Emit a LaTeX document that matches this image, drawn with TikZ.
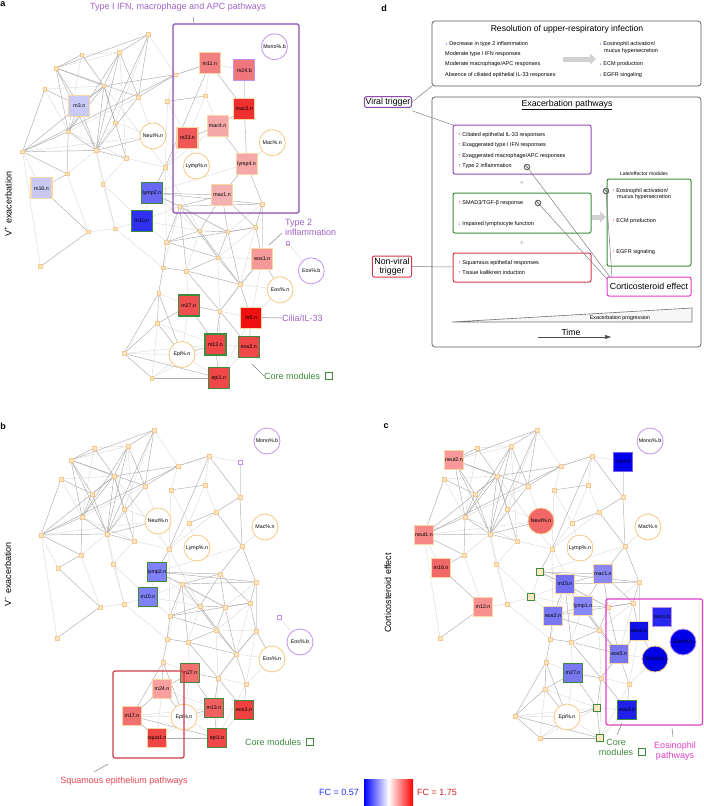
\documentclass[tikz,border=0pt]{standalone}
\usepackage{fontspec}
\setmainfont{Liberation Sans}
\usetikzlibrary{arrows.meta}
\definecolor{dotF}{HTML}{FDE6C0}
\definecolor{dotB}{HTML}{F5C98C}
\definecolor{orgB}{HTML}{F9D6A6}
\definecolor{cellB}{HTML}{F5C883}
\definecolor{purpB}{HTML}{C393F0}
\definecolor{coreG}{HTML}{3C8C3C}
\definecolor{annP}{HTML}{A064C8}
\definecolor{annG}{HTML}{3C8C3C}
\definecolor{annR}{HTML}{E04452}
\definecolor{annM}{HTML}{E040C8}
\definecolor{boxP}{HTML}{8E4AB4}
\definecolor{boxR}{HTML}{D03A48}
\definecolor{upR}{HTML}{E02020}
\definecolor{dnB}{HTML}{2050E0}
\definecolor{fcblue}{HTML}{2030F0}
\definecolor{fcred}{HTML}{D02020}
\newcommand\myfs[1]{\fontsize{#1}{#1}\selectfont}
\newcommand\upa{\textcolor{upR}{↑}\ }
\newcommand\dna{\textcolor{dnB}{↓}\ }
\def\netpos{n1/154/430,n2/94/448,n3/128/446,n4/71/460,n5/178/466,n6/61/479,n7/114/476,n8/145/486,n9/171/490,n10/92/494,n11/124/509,n12/82/517,n13/41/535,n14/107/534,n15/134/541,n16/169/549,n17/81/555,n18/113/564,n19/58/568,n20/209/456,n21/240/462,n22/205/485,n23/240/497,n24/216/512,n25/189/523,n26/242/546,n27/157/572,n28/148/597,n29/100/607,n30/124/604,n31/57/638,n32/220/574,n33/256/582,n34/182/584,n35/200/606,n36/225/607,n37/250/603,n38/170/616,n39/216/630,n40/167/639,n41/188/642,n42/256/631,n43/279/617,n44/236/654,n45/163/662,n46/218/678,n47/246/684,n48/190/673,n49/162/689,n50/132/716,n51/157/738,n52/214/708,n53/244/710,n54/217/738,cNeut/158/521,cMono/267/441,cMac/265/527,cLymp/197/548,cEosn/272/659,cEosb/300/642,cEpi/184/717}
\def\edgesD{n1/n3,n1/n4,n1/n8,n1/n14,n2/n4,n2/n7,n3/n7,n3/n8,n3/n14,n3/n12,n4/n7,n4/n10,n4/n12,n4/n14,n4/n8,n5/n13,n5/n7,n6/n10,n6/n13,n7/n10,n7/n11,n7/n12,n7/n14,n7/n15,n7/n13,n8/n14,n10/n12,n10/n14,n12/n13,n12/n14,n12/n17,n13/n14,n13/n17,n14/n15,n14/cNeut,n17/n19,n19/n29,n29/n31,n20/n5,n20/n23,n20/n16,n23/n24,n24/n25,n24/n26,n23/n26,n26/n32,n26/n33,n27/n32,n27/n34,n27/n33,n32/n34,n32/n35,n32/n37,n32/n36,n33/n34,n33/n37,n34/n36,n34/n38,n34/n39,n35/n36,n35/n38,n36/n37,n36/n39,n37/n38,n38/n39,n38/n40,n39/n41,n39/n44,n34/n41,n40/n41,n41/n44,n42/n44,n44/n46,n44/n47,n46/n48,n46/n52,n48/n49,n49/n50,n50/n51,n51/n54,n52/n54,n50/n54,n45/n50,n45/n49,n40/n45,n41/n46,n37/n42,n36/n44,n35/n44,n42/cEosn,n52/cEpi,n49/cEpi,n47/n53,n46/n53,n48/n52,n45/cEpi,n16/n27,n9/n22,n5/n8}
\def\edgesL{n1/n5,n1/n11,n2/n3,n2/n12,n3/n15,n5/n9,n5/n20,n6/n7,n6/n12,n7/n16,n8/cNeut,n8/n12,n9/n25,n11/n14,n11/cNeut,n12/n15,n13/n19,n13/cNeut,n13/n31,n14/n17,n14/n18,n15/n18,n15/n16,n17/n29,n18/n30,n18/n28,n20/n21,n20/n22,n21/n23,n22/n24,n25/n16,n25/cLymp,n26/cMac,n26/n27,n28/n30,n28/n34,n28/n38,n28/n35,n29/n30,n30/n40,n30/n14,n27/n28,n16/n38,n16/n35,n33/n36,n33/n42,n35/n39,n35/n41,n37/n39,n37/n44,n39/n42,n39/n46,n40/n34,n41/n48,n42/n46,n42/n47,n44/cEosn,n45/n48,n46/n47,n46/n54,n47/cEosn,n47/n54,n48/cEpi,n49/n51,n49/n52,n50/cEpi,n50/n52,n51/cEpi,n51/n52,n52/n53,n53/n54,cEpi/n54,n43/cEosb,n24/n16,n22/n25,n27/n36,n27/n35,n9/n16,n3/n4}
\newcommand\drawnet[1]{%
  \foreach \n/\x/\y in \netpos {\coordinate (#1-\n) at (\x,\y);}
  \foreach \u/\v in \edgesL {\draw[edgeL] (#1-\u) -- (#1-\v);}
  \foreach \u/\v in \edgesD {\draw[edgeD] (#1-\u) -- (#1-\v);}
  \foreach \i in {1,...,54} {\node[dot] (#1-d\i) at (#1-n\i) {};}
}
\tikzset{
  edgeD/.style={draw=black!32, line width=0.45pt},
  edgeL/.style={draw=black!15, line width=0.4pt},
  dot/.style={rectangle, minimum size=3.6pt, inner sep=0pt, fill=dotF, draw=dotB, line width=0.5pt},
  pdot/.style={rectangle, minimum size=3.6pt, inner sep=0pt, fill=white, draw=purpB, line width=0.6pt},
  modbase/.style={rectangle, inner sep=0pt, draw=orgB, line width=1.1pt, font=\myfs{5.3}},
  modA/.style={modbase, minimum size=21pt},
  modB/.style={modbase, minimum size=19.5pt},
  core/.style={draw=coreG, line width=1.2pt},
  pb/.style={draw=purpB},
  cell/.style={circle, minimum size=26pt, inner sep=0pt, draw=cellB, line width=0.8pt, fill=white, font=\myfs{5.3}},
  pcell/.style={cell, draw=purpB},
  minicore/.style={rectangle, minimum size=6.5pt, inner sep=0pt, draw=coreG, line width=1pt, fill=dotF},
  ann/.style={font=\myfs{9}, inner sep=0pt},
  plab/.style={font=\bfseries\myfs{9}, inner sep=0pt},
  side/.style={font=\myfs{9}, rotate=90, inner sep=0pt},
  dbox/.style={draw=black!65, rounded corners=3pt, line width=0.7pt},
  item/.style={anchor=west, font=\myfs{5.5}, inner sep=0pt},
  nosym/.style={circle, draw=black!60, line width=1pt, minimum size=5.5pt, inner sep=0pt,
    path picture={\draw[black!60, line width=1pt] (path picture bounding box.north west) -- (path picture bounding box.south east);}},
  fatarrow/.style={draw=black!18, line width=5pt, -{Triangle[length=6pt,width=11pt]}},
  trig/.style={rounded corners=2pt, line width=1pt, fill=white, font=\myfs{8.8}, inner sep=1.6pt, align=center},
  link/.style={draw=black!50, line width=0.5pt}
}
\begin{document}
\begin{tikzpicture}[x=1pt,y=-1pt]
\useasboundingbox (0,0) rectangle (704,806);
\fill[white] (0,0) rectangle (704,806);

% ================= panel a =================
\begin{scope}[shift={(-23.2,-445)}, scale=1.115]
\drawnet{a}
\end{scope}
\node[pdot] (a-pd43) at (a-n43) {};
\node[cell] (a-Neut) at (a-cNeut) {Neut\%.n};
\node[pcell] (a-Mono) at (a-cMono) {Mono\%.b};
\node[cell] (a-Mac) at (a-cMac) {Mac\%.n};
\node[cell] (a-Lymp) at (a-cLymp) {Lymp\%.n};
\node[cell] (a-Eosn) at (a-cEosn) {Eos\%.n};
\node[pcell] (a-Eosb) at (a-cEosb) {Eos\%.b};
\node[cell] (a-Epi) at (a-cEpi) {Epi\%.n};
\node[modA, fill={rgb,255:red,202;green,202;blue,248}] (a-m3) at (a-n10) {m3.n};
\node[modA, fill={rgb,255:red,200;green,200;blue,244}] (a-m16) at (a-n19) {m16.n};
\node[modA, fill={rgb,255:red,240;green,128;blue,128}] (a-m11) at (a-n20) {m11.n};
\node[modA, pb, fill={rgb,255:red,240;green,118;blue,124}] (a-m24b) at (a-n21) {m24.b};
\node[modA, fill={rgb,255:red,240;green,48;blue,48}] (a-mac2) at (a-n23) {mac2.n};
\node[modA, fill={rgb,255:red,244;green,168;blue,168}] (a-mac4) at (a-n24) {mac4.n};
\node[modA, fill={rgb,255:red,240;green,88;blue,88}] (a-m23) at (a-n25) {m23.n};
\node[modA, fill={rgb,255:red,244;green,168;blue,168}] (a-lymp4) at (a-n26) {lymp4.n};
\node[modA, fill={rgb,255:red,244;green,176;blue,176}] (a-mac1) at (a-n32) {mac1.n};
\node[modA, core, fill={rgb,255:red,104;green,104;blue,240}] (a-lymp2) at (a-n27) {lymp2.n};
\node[modA, core, fill={rgb,255:red,48;green,48;blue,240}] (a-m10) at (a-n28) {m10.n};
\node[modA, fill={rgb,255:red,244;green,152;blue,152}] (a-eos1) at (a-n42) {eos1.n};
\node[modA, core, fill={rgb,255:red,240;green,80;blue,80}] (a-m27) at (a-n48) {m27.n};
\node[modA, fill={rgb,255:red,240;green,16;blue,16}] (a-m5) at (a-n47) {m5.n};
\node[modA, core, fill={rgb,255:red,240;green,72;blue,72}] (a-m13) at (a-n52) {m13.n};
\node[modA, core, fill={rgb,255:red,240;green,72;blue,72}] (a-eos3) at (a-n53) {eos3.n};
\node[modA, core, fill={rgb,255:red,240;green,72;blue,72}] (a-epi1) at (a-n54) {epi1.n};
% annotations a
\draw[boxP, line width=1.2pt, rounded corners=1.5pt] (173,24) rectangle (299,213);
\node[ann, text=annP] (a-t1) at (178,7) {Type I IFN, macrophage and APC pathways};
\coordinate (a-t1a) at (193,17); \coordinate (a-t1b) at (194,23);
\draw[link] (a-t1a) -- (a-t1b);
\node[ann, text=annP, anchor=north west, align=left] (a-t2) at (285,219) {Type 2\\[1pt]inflammation};
\coordinate (a-t2a) at (269,245); \coordinate (a-t2b) at (282,233);
\draw[link] (a-t2a) -- (a-t2b);
\node[ann, text=annP, anchor=west] (a-t3) at (282,318) {Cilia/IL-33};
\draw[link] (a-m5.east) -- (a-t3.west);
\node[ann, text=annG, anchor=west] (a-t4) at (264,376) {Core modules};
\node[minicore, fill=white, minimum size=6.5pt] (a-t4s) at (329,376) {};
\coordinate (a-t4a) at (252,364);
\draw[link] (a-t4a) -- (a-t4.west);
\node[plab] (a-lab) at (3,4) {a};
\node[side] (a-side) at (8,204) {V\textsuperscript{+} exacerbation};

% ================= panel b =================
\begin{scope}
\drawnet{b}
\end{scope}
\node[pdot] (b-pd21) at (b-n21) {};
\node[pdot] (b-pd43) at (b-n43) {};
\node[cell] (b-Neut) at (b-cNeut) {Neut\%.n};
\node[pcell] (b-Mono) at (b-cMono) {Mono\%.b};
\node[cell] (b-Mac) at (b-cMac) {Mac\%.n};
\node[cell] (b-Lymp) at (b-cLymp) {Lymp\%.n};
\node[cell] (b-Eosn) at (b-cEosn) {Eos\%.n};
\node[pcell] (b-Eosb) at (b-cEosb) {Eos\%.b};
\node[cell] (b-Epi) at (b-cEpi) {Epi\%.n};
\node[modB, core, fill={rgb,255:red,128;green,128;blue,248}] (b-lymp2) at (b-n27) {lymp2.n};
\node[modB, core, fill={rgb,255:red,128;green,128;blue,248}] (b-m10) at (b-n28) {m10.n};
\node[modB, core, fill={rgb,255:red,240;green,112;blue,112}] (b-m27) at (b-n48) {m27.n};
\node[modB, fill={rgb,255:red,248;green,160;blue,160}] (b-m24) at (b-n49) {m24.n};
\node[modB, fill={rgb,255:red,240;green,112;blue,112}] (b-m17) at (b-n50) {m17.n};
\node[modB, fill={rgb,255:red,240;green,70;blue,70}] (b-squa1) at (b-n51) {squa1.n};
\node[modB, core, fill={rgb,255:red,240;green,96;blue,96}] (b-m13) at (b-n52) {m13.n};
\node[modB, core, fill={rgb,255:red,240;green,64;blue,64}] (b-eos3) at (b-n53) {eos3.n};
\node[modB, core, fill={rgb,255:red,240;green,72;blue,72}] (b-epi1) at (b-n54) {epi1.n};
\draw[boxR, line width=1.2pt, rounded corners=2pt] (113,671) rectangle (184,758);
\node[ann, text=annR] (b-t1) at (124,781) {Squamous epithelium pathways};
\coordinate (b-t1a) at (94,772); \coordinate (b-t1b) at (108,764);
\draw[link] (b-t1a) -- (b-t1b);
\node[ann, text=annG, anchor=west] (b-t2) at (245,742) {Core modules};
\node[minicore, fill=white] (b-t2s) at (310,742) {};
\node[plab] (b-lab) at (3,426) {b};
\node[side] (b-side) at (8,574) {V\textsuperscript{−} exacerbation};

% ================= panel c =================
\begin{scope}[shift={(383,0)}]
\drawnet{c}
\end{scope}
\node[cell, fill={rgb,255:red,240;green,104;blue,104}] (c-Neut) at (c-cNeut) {Neut\%.n};
\node[pcell] (c-Mono) at (c-cMono) {Mono\%.b};
\node[cell] (c-Mac) at (c-cMac) {Mac\%.n};
\node[cell] (c-Lymp) at (c-cLymp) {Lymp\%.n};
\node[cell, fill={rgb,255:red,0;green,0;blue,232}] (c-Eosn) at (c-cEosn) {Eos\%.n};
\node[pcell, fill={rgb,255:red,0;green,0;blue,232}] (c-Eosb) at (c-cEosb) {Eos\%.b};
\node[cell] (c-Epi) at (c-cEpi) {Epi\%.n};
\node[modB, fill={rgb,255:red,248;green,152;blue,152}] (c-neut2) at (c-n4) {neut2.n};
\node[modB, fill={rgb,255:red,248;green,136;blue,136}] (c-neut1) at (c-n13) {neut1.n};
\node[modB, fill={rgb,255:red,240;green,104;blue,104}] (c-m16) at (c-n19) {m16.n};
\node[modB, fill={rgb,255:red,248;green,144;blue,144}] (c-m12) at (c-n29) {m12.n};
\node[modB, draw={rgb,255:red,128;green,96;blue,240}, fill={rgb,255:red,0;green,0;blue,240}] (c-m24b) at (c-n21) {m24.b};
\node[modB, fill={rgb,255:red,136;green,136;blue,240}] (c-mac1) at (c-n32) {mac1.n};
\node[modB, fill={rgb,255:red,112;green,112;blue,240}] (c-m15) at (c-n34) {m15.n};
\node[modB, fill={rgb,255:red,136;green,136;blue,248}] (c-lymp1) at (c-n35) {lymp1.n};
\node[modB, fill={rgb,255:red,120;green,120;blue,240}] (c-eos2) at (c-n38) {eos2.n};
\node[modB, fill={rgb,255:red,120;green,120;blue,236}] (c-eos5) at (c-n44) {eos5.n};
\node[modB, core, fill={rgb,255:red,120;green,120;blue,240}] (c-m27) at (c-n48) {m27.n};
\node[modB, fill={rgb,255:red,16;green,16;blue,232}] (c-eos1) at (c-n42) {eos1.n};
\node[modB, pb, fill={rgb,255:red,40;green,40;blue,240}] (c-eos1b) at (c-n43) {eos1.b};
\node[modB, core, fill={rgb,255:red,32;green,32;blue,232}] (c-eos3) at (c-n53) {eos3.n};
\node[minicore] (c-k1) at (c-n27) {};
\node[minicore] (c-k2) at (c-n28) {};
\node[minicore] (c-k3) at (c-n52) {};
\node[minicore] (c-k4) at (c-n54) {};
\draw[annM, line width=1.2pt, rounded corners=2pt] (606,599) rectangle (702.5,725);
\node[ann, text=annG, align=center] (c-t1) at (616,747) {Core\\[1pt]modules};
\node[minicore, fill=white] (c-t1s) at (642,752) {};
\coordinate (c-t1a) at (622,723); \coordinate (c-t1b) at (617,735);
\draw[link] (c-t1a) -- (c-t1b);
\node[ann, text=annM, align=center] (c-t2) at (675,751) {Eosinophil\\[1pt]pathways};
\coordinate (c-t2a) at (672,728); \coordinate (c-t2b) at (673,737);
\draw[link] (c-t2a) -- (c-t2b);
\node[plab] (c-lab) at (386,426) {c};
\node[side] (c-side) at (388,593) {Corticosteroid effect};

% colour bar
\shade[left color=blue, right color=red, middle color=white] (364,779) rectangle (413,806);
\coordinate (bar) at (388,792);
\node[ann, text=fcblue, anchor=east] (fc1) at (359,792) {FC = 0.57};
\node[ann, text=fcred, anchor=west] (fc2) at (417,792) {FC = 1.75};

% ================= panel d =================
\node[plab] (d-lab) at (384,8) {d};
\draw[dbox] (432,21) rectangle (701,86);
\node[font=\myfs{8.6}, inner sep=0pt] (d-t1) at (567,29) {Resolution of upper-respiratory infection};
\node[item] (d-r1) at (445,44) {\dna Decrease in type 2 inflammation};
\node[item] (d-r2) at (445,54) {Moderate type I IFN responses};
\node[item] (d-r3) at (445,64) {Moderate macrophage/APC responses};
\node[item] (d-r4) at (445,75) {Absence of ciliated epithelial IL-33 responses};
\coordinate (d-fa1) at (563,59); \coordinate (d-fa2) at (596,59);
\draw[fatarrow] (d-fa1) -- (d-fa2);
\node[item] (d-s1) at (599,44) {\dna Eosinophil activation/};
\node[item] (d-s2) at (604,51) {mucus hypersecretion};
\node[item] (d-s3) at (599,64) {\dna ECM production};
\node[item] (d-s4) at (599,75) {\dna EGFR singaling};

\draw[dbox] (432,97) rectangle (701,347);
\node[font=\myfs{8.8}, inner sep=0pt] (d-t2) at (567,105) {\underline{Exacerbation pathways}};
\draw[boxP, line width=1pt, rounded corners=2pt] (453,125) rectangle (591,174);
\node[item] (d-p1) at (458,135) {\upa Ciliated epithelial IL-33 responses};
\node[item] (d-p2) at (458,145.5) {\upa Exaggerated type I IFN responses};
\node[item] (d-p3) at (458,155.7) {\upa Exaggerated macrophage/APC responses};
\node[item] (d-p4) at (458,166) {\upa Type 2 inflammation};
\node[nosym] (d-no1) at (527,167) {};
\node[font=\myfs{7}, text=black!35, inner sep=0pt] (d-plus1) at (522,183) {+};
\draw[coreG, line width=1pt, rounded corners=2pt] (453,193) rectangle (591,233);
\node[item] (d-g1) at (458,203) {\upa SMAD3/TGF-β response};
\node[nosym] (d-no2) at (538,203) {};
\node[item] (d-g2) at (458,224) {\dna Impaired lymphocyte function};
\node[font=\myfs{7}, text=black!35, inner sep=0pt] (d-plus2) at (522,243) {+};
\draw[boxR, line width=1pt, rounded corners=2pt] (453,253) rectangle (591,282);
\node[item] (d-q1) at (458,263) {\upa Squamous epithelial responses};
\node[item] (d-q2) at (458,273) {\upa Tissue kallikrein induction};
\coordinate (d-fb1) at (592,217); \coordinate (d-fb2) at (606,217);
\draw[fatarrow] (d-fb1) -- (d-fb2);
\node[font=\myfs{5}, inner sep=0pt] (d-late) at (644,174) {Late/effector modules};
\draw[coreG, line width=1pt, rounded corners=2pt] (607,179) rectangle (691,266);
\node[nosym] (d-no3) at (606,191) {};
\node[item] (d-e1) at (612,191) {\upa Eosinophil activation/};
\node[item] (d-e2) at (617,197) {mucus hypersecretion};
\node[item] (d-e3) at (612,221) {\upa ECM production};
\node[item] (d-e4) at (612,252) {\upa EGFR signaling};
\node[trig, draw=annM, minimum width=84pt, minimum height=19pt, inner sep=0pt] (d-cort) at (649,286.5) {Corticosteroid effect};
\coordinate (d-c1) at (610,277); \coordinate (d-c2) at (607,279); \coordinate (d-c3) at (612,277);
\draw[link] (d-no1) -- (d-c1);
\draw[link] (d-no2) -- (d-c2);
\draw[link] (d-no3) -- (d-c3);
\node[trig, draw=boxP, minimum height=10.6pt, inner sep=1.2pt] (d-viral) at (388,102) {Viral trigger};
\coordinate (d-b1c) at (432,86);
\draw[link] (d-viral.east) -- (d-b1c);
\coordinate (d-pc) at (453,125);
\draw[link] ([yshift=-3pt]d-viral.south east) -- (d-pc);
\node[trig, draw=boxR, inner sep=2pt] (d-nonviral) at (392,266.5) {Non-viral\\trigger};
\coordinate (d-rc) at (453,267);
\draw[link] (d-nonviral.east) -- (d-rc);
\coordinate (d-w1) at (452,322); \coordinate (d-w2) at (692,308); \coordinate (d-w3) at (692,322);
\draw[black!55, line width=0.6pt, fill=black!3] (d-w1) -- (d-w2) -- (d-w3) -- cycle;
\node[font=\myfs{5.3}, inner sep=0pt] (d-prog) at (620,318) {Exacerbation progression};
\node[font=\myfs{8.7}, inner sep=0pt] (d-time) at (571,332) {Time};
\coordinate (d-ta) at (538,337); \coordinate (d-tb) at (611,337);
\draw[black!70, line width=0.5pt, -{Triangle[length=6pt,width=4pt]}] (d-ta) -- (d-tb);
\end{tikzpicture}
\end{document}
